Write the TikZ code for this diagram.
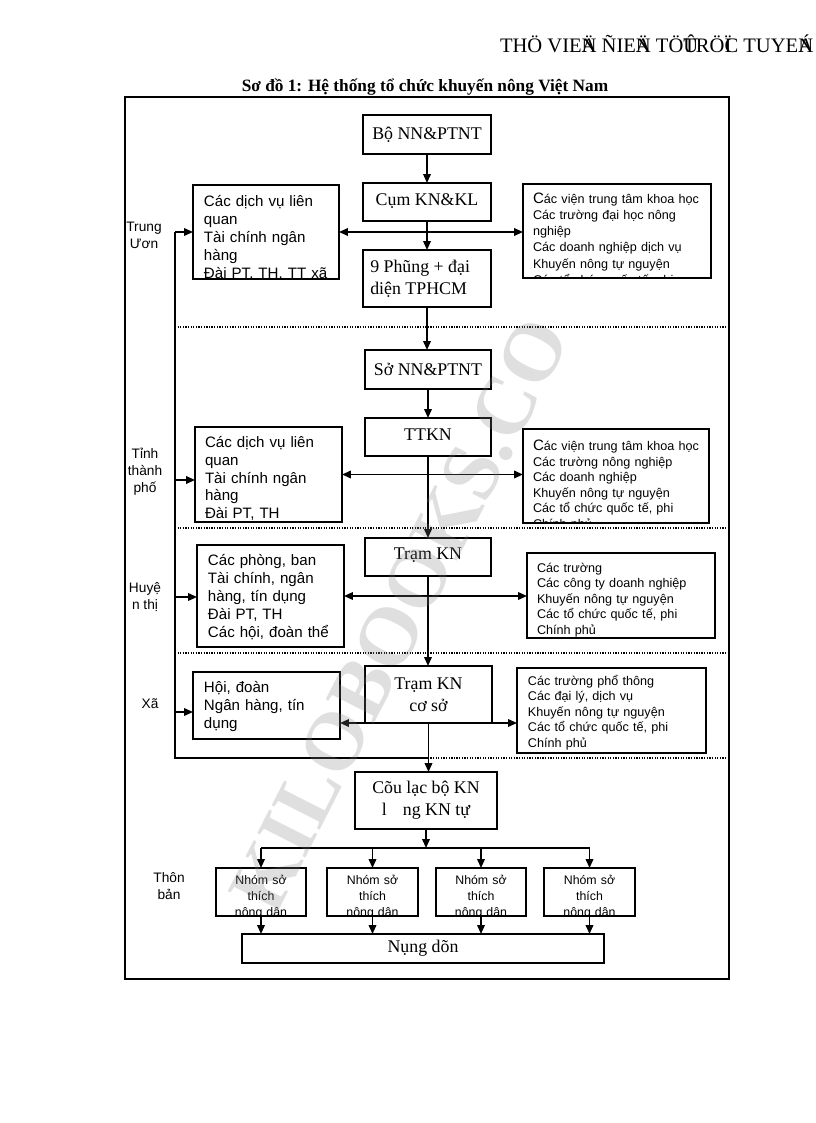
\documentclass[tikz,border=0pt]{standalone}
\usepackage{fontspec}
\setmainfont{Liberation Serif}
\setsansfont{Liberation Sans}
\usetikzlibrary{arrows.meta,fit}
\begin{document}
\begin{tikzpicture}[x=0.729pt,y=-0.729pt,
  every node/.style={inner sep=0pt, outer sep=0pt},
  arr/.style={line width=1.2pt, -{Triangle[length=6.5pt,width=5.5pt]}},
  dbl/.style={line width=1.2pt, {Triangle[length=6.5pt,width=5.5pt]}-{Triangle[length=6.5pt,width=5.5pt]}},
  bus/.style={line width=1.2pt},
  sep/.style={densely dotted, line width=0.9pt},
  bx/.style args={#1/#2/#3/#4}{minimum width={(#3-#1)*0.729pt}, minimum height={(#4-#2)*0.729pt}, at={({(#1+#3)/2},{(#2+#4)/2})}},
  mbox/.style={draw, line width=1.4pt, inner sep=0pt, align=center, font=\fontsize{13}{16}\selectfont},
  sbox/.style={draw, line width=1pt, inner sep=0pt},
  frm/.style={draw, line width=1pt, inner sep=0pt},
  lft/.style={font=\sffamily\fontsize{11}{13.1}\selectfont, align=left, anchor=north west, inner sep=0pt},
  rgt/.style={font=\sffamily\fontsize{9.2}{11.3}\selectfont, align=left, anchor=north west, inner sep=0pt},
  nhm/.style={font=\sffamily\fontsize{9}{11.7}\selectfont, align=center, anchor=north, inner sep=0pt},
  lbl/.style={font=\sffamily\fontsize{10}{12.4}\selectfont, align=center}]
\useasboundingbox (0,0) rectangle (816,1123);

% header and title
\node[anchor=base west, font=\fontsize{15}{17}\selectfont] (hdr) at (500,53) {THÖ VIE\rlap{Ä}N ÑIE\rlap{Ä}N TÖ\rlap{Û}TRÖ\rlap{Ï}C TUYE\rlap{Á}N};
\node[font=\bfseries\fontsize{12.6}{14}\selectfont] (title) at (425,87) {Sơ đồ 1: Hệ thống tổ chức khuyến nông Việt Nam};

% frame
\node[frm, fit={(125,97) (729,979)}] (frame) {};

% dotted separators
\coordinate (s1a) at (175,327); \coordinate (s1b) at (729,327);
\coordinate (s2a) at (175,528); \coordinate (s2b) at (729,528);
\coordinate (s3a) at (175,653); \coordinate (s3b) at (729,653);
\coordinate (s4a) at (175,758); \coordinate (s4b) at (729,758);
\draw[sep] (s1a) -- (s1b);
\draw[sep] (s2a) -- (s2b);
\draw[sep] (s3a) -- (s3b);
\draw[sep] (s4a) -- (s4b);

% level labels
\node[lbl] (lTU) at (144,235) {Trung\\Ươn};
\node[lbl] (lTinh) at (145,472) {Tỉnh\\thành\\phố};
\node[lbl] (lHuyen) at (145,597) {Huyệ\\n thị};
\node[lbl] (lXa) at (150,704) {Xã};
\node[lbl] (lThon) at (169,886) {Thôn\\bản};

% main column
\node[mbox, bx=363/115/491/154] (bo) {Bộ NN\&PTNT};
\node[mbox, bx=363/183/491/221, text depth=3pt] (cum) {Cụm KN\&KL};
\node[mbox, bx=363/250/491/307, align=left] (phung) {9 Phũng + đại\hspace*{10pt}\\diện TPHCM};
\node[mbox, bx=365/350/491/389] (so) {Sở NN\&PTNT};
\node[mbox, bx=365/418/491/456, text depth=4pt] (ttkn) {TTKN};
\node[mbox, bx=365/538/491/576, text depth=4.5pt] (tram) {Trạm KN};
\node[mbox, bx=365/666/492/723] (tcs) {Trạm KN\\cơ sở};
\node[mbox, bx=355/772/497/829] (clb) {Cõu lạc bộ KN\\l\hspace{0.9em}ng KN tự};

% Trung uong side boxes
\node[sbox, fit={(193,185) (339,279)}, path picture={\node[lft] at ([shift={(8pt,-8.3pt)}]path picture bounding box.north west) {\strut Các dịch vụ liên\\quan\\Tài chính ngân\\hàng\\Đài PT, TH, TT xã};}] (tuL) {};
\node[sbox, fit={(523,184) (711,278)}, path picture={\node[rgt, font=\sffamily\fontsize{9.2}{11.7}\selectfont] at ([shift={(7.3pt,-10.4pt)}]path picture bounding box.north west) {\strut{\fontsize{11}{11}\selectfont C}ác viện trung tâm khoa học\\Các trường đại học nông\\nghiệp\\Các doanh nghiệp dịch vụ\\Khuyến nông tự nguyện\\Các tổ chức quốc tế, phi};}] (tuR) {};

% Tinh side boxes
\node[sbox, fit={(195,427) (342,522)}, path picture={\node[lft] at ([shift={(7.3pt,-6.9pt)}]path picture bounding box.north west) {\strut Các dịch vụ liên\\quan\\Tài chính ngân\\hàng\\Đài PT, TH};}] (tinhL) {};
\node[sbox, fit={(523,429) (709,523)}, path picture={\node[rgt] at ([shift={(7.3pt,-10.8pt)}]path picture bounding box.north west) {\strut{\fontsize{11}{11}\selectfont C}ác viện trung tâm khoa học\\Các trường nông nghiệp\\Các doanh nghiệp\\Khuyến nông tự nguyện\\Các tổ chức quốc tế, phi\\Chính phủ};}] (tinhR) {};

% Huyen side boxes
\node[sbox, fit={(197,545) (344,647)}, path picture={\node[lft] at ([shift={(8pt,-5.1pt)}]path picture bounding box.north west) {\strut Các phòng, ban\\Tài chính, ngân\\hàng, tín dụng\\Đài PT, TH\\Các hội, đoàn thể};}] (huyenL) {};
\node[sbox, fit={(527,553) (715,638)}, path picture={\node[rgt] at ([shift={(7.3pt,-6.7pt)}]path picture bounding box.north west) {\strut Các trường\\Các công ty doanh nghiệp\\Khuyến nông tự nguyện\\Các tổ chức quốc tế, phi\\Chính phủ};}] (huyenR) {};

% Xa side boxes
\node[sbox, fit={(193,672) (340,739)}, path picture={\node[lft] at ([shift={(8pt,-5.1pt)}]path picture bounding box.north west) {\strut Hội, đoàn\\Ngân hàng, tín\\dụng};}] (xaL) {};
\node[sbox, fit={(517,668) (706,753)}, path picture={\node[rgt] at ([shift={(8pt,-5.3pt)}]path picture bounding box.north west) {\strut Các trường phổ thông\\Các đại lý, dịch vụ\\Khuyến nông tự nguyện\\Các tổ chức quốc tế, phi\\Chính phủ};}] (xaR) {};

% Thon ban boxes
\foreach \n/\xa/\xb in {n1/216/306, n2/327/418, n3/436/526, n4/544/635}{
  \node[mbox, line width=1.3pt, fit={(\xa,868) (\xb,916)}, path picture={\node[nhm] at ([yshift=-7.2pt]path picture bounding box.north) {\strut Nhóm sở\\thích\\nông dân};}] (\n) {};
}
\node[mbox, line width=1.1pt, bx=242/934/604/963] (nd) {Nụng dõn};

% vertical chain
\draw[arr] (bo.south) -- (cum.north);
\draw[arr] (cum.south) -- (phung.north);
\draw[arr] (phung.south) -- (phung.south |- so.north);
\draw[arr] (so.south) -- (ttkn.north);
\draw[arr] (ttkn.south) -- (ttkn.south |- tram.north);
\draw[arr] (tram.south) -- (tram.south |- tcs.north);
\draw[arr] (tcs.south) -- (tcs.south |- clb.north);

% horizontal double arrows
\draw[dbl] (tuL.east) -- (tuL.east -| tuR.west);
\draw[dbl] (tinhL.east) -- (tinhL.east -| tinhR.west);
\draw[dbl] (huyenL.east) -- (huyenL.east -| huyenR.west);
\draw[dbl] (tcs.south west -| xaL.east) -- (tcs.south east -| xaR.west);

% left bus
\coordinate (bb) at (175,758);
\coordinate (bt) at (175,232);
\coordinate (b2) at (175,480);
\coordinate (b3) at (175,597);
\coordinate (b4) at (175,712);
\draw[bus] (tcs.south |- bb) -- (bb) -- (bt);
\draw[arr] (bt) -- (bt -| tuL.west);
\draw[arr] (b2) -- (b2 -| tinhL.west);
\draw[arr] (b3) -- (b3 -| huyenL.west);
\draw[arr] (b4) -- (b4 -| xaL.west);

% bottom distribution
\coordinate (nb) at (428,848);
\draw[arr] (clb.south) -- (clb.south |- nb);
\draw[bus] (n1.north |- nb) -- (n4.north |- nb);
\foreach \n in {n1,n2,n3,n4}{
  \draw[arr] (\n.north |- nb) -- (\n.north);
  \draw[arr] (\n.south) -- (\n.south |- nd.north);
}

% watermark
\node[rotate=63, text=gray, text opacity=0.25, font=\bfseries\fontsize{60}{60}\selectfont] (wm) at (400,615) {KILOBOOKS.CO};
\end{tikzpicture}
\end{document}
